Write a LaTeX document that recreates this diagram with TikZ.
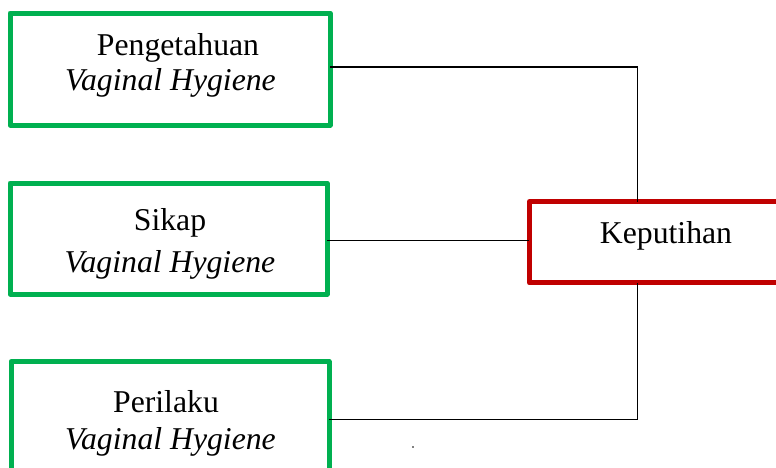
\documentclass[tikz,border=0pt]{standalone}
\usepackage{fontspec}
\setmainfont{Liberation Serif}
\definecolor{boxgreen}{HTML}{00B050}
\definecolor{boxred}{HTML}{C00000}
\begin{document}
\begin{tikzpicture}[x=0.75pt,y=-0.75pt,
  frame/.style={draw, line width=3.75pt, line join=round, inner sep=0pt, outer sep=0pt, fill=white},
  factor/.style={frame, draw=boxgreen},
  outcome/.style={frame, draw=boxred},
  label/.style={anchor=base, inner sep=0pt, font=\fontsize{23.8pt}{27pt}\selectfont},
  link/.style={draw=black, line width=1.1pt, line join=miter}]
  \useasboundingbox (0,0) rectangle (776,468);
  \clip (0,0) rectangle (776,468);

  % factor boxes
  \node[factor, minimum width=240pt, minimum height=84pt] (b1) at (170,69) {};
  \node[factor, minimum width=237.75pt, minimum height=83.25pt] (b2) at (168.5,238.5) {};
  \node[factor, minimum width=238.5pt, minimum height=88.9pt] (b3) at (170,420.75) {};
  % outcome box
  \node[outcome, minimum width=202.9pt, minimum height=61.1pt] (k) at (664.75,242.25) {};

  % labels
  \node[label] (t1a) at (178,55) {Pengetahuan};
  \node[label] (t1b) at (170.5,90.7) {\itshape Vaginal Hygiene};
  \node[label] (t2a) at (170,230) {Sikap};
  \node[label] (t2b) at (170,272) {\itshape Vaginal Hygiene};
  \node[label] (t3a) at (166,412.7) {Perilaku};
  \node[label] (t3b) at (170.5,449) {\itshape Vaginal Hygiene};
  \node[label] (tk) at (666,243.3) {Keputihan};

  % connectors
  \coordinate (c1) at (637.7,67);
  \coordinate (c3) at (637.7,419.3);
  \coordinate (c2) at (400,240.7);
  \draw[link] (b1.east |- c1) -- (c1) -- (k.north -| c1);
  \draw[link] (b2.east |- c2) -- (k.west |- c2);
  \draw[link] (b3.east |- c3) -- (c3) -- (k.south -| c3);

  % stray dot
  \fill (413,447) circle (0.6pt);
\end{tikzpicture}
\end{document}
